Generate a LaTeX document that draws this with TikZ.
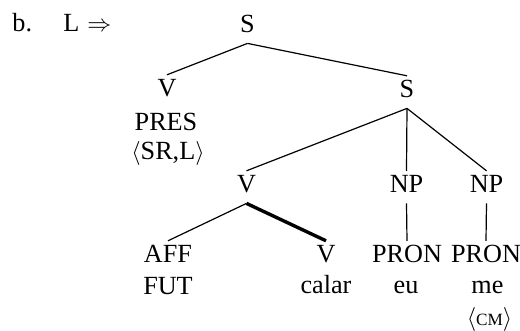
\documentclass[tikz,border=0pt]{standalone}
\usepackage{fontspec}
\setmainfont{Liberation Serif}
\newcommand{\treefont}{\fontsize{13.1}{15.5}\selectfont}
\newcommand{\smallcapsfake}[1]{{\fontsize{8.6}{10}\selectfont #1}}
\begin{document}
\begin{tikzpicture}[x=0.5pt,y=-0.5pt,
  tn/.style={font=\treefont, inner xsep=0pt, inner ysep=2.5pt, text height=8.4pt, text depth=2.5pt, anchor=base},
  lbl/.style={font=\treefont, inner sep=0pt, anchor=base},
  thinedge/.style={line width=0.6pt},
  thickedge/.style={line width=1.7pt}]
\useasboundingbox (0,0) rectangle (520,331);
% example label
\node[lbl, anchor=base west] (ex) at (12,32) {b.};
\node[lbl, anchor=base west] (lhs) at (63,32) {L\hspace{4pt}$\Rightarrow$};
% tree nodes
\node[tn] (root) at (247.5,33) {S};
\node[tn] (v1) at (167,97) {V};
\node[lbl] (pres) at (166,131) {PRES};
\node[lbl] (srl) at (168,160) {$\langle$SR,L$\rangle$};
\node[tn] (s2) at (407,98) {S};
\node[tn] (v3) at (246.5,193) {V};
\node[tn] (np1) at (406.5,193) {NP};
\node[tn] (np2) at (486.5,193) {NP};
\node[tn] (aff) at (168,263) {AFF};
\node[lbl] (fut) at (168,295) {FUT};
\node[tn] (v4) at (326,263) {V};
\node[lbl] (calar) at (326,294) {calar};
\node[tn] (pron1) at (407,263) {PRON};
\node[lbl] (eu) at (406,294) {eu};
\node[tn] (pron2) at (486,263) {PRON};
\node[lbl] (me) at (487.5,294) {me};
\node[lbl] (cm) at (489.5,325.7) {$\langle$\smallcapsfake{CM}$\rangle$};
% edges
\draw[thinedge] (root.south) -- (v1.north);
\draw[thinedge] (root.south) -- (s2.north);
\draw[thinedge] (s2.south) -- (v3.north);
\draw[thinedge] (s2.south) -- (np1.north);
\draw[thinedge] (s2.south) -- (np2.north);
\draw[thinedge] (v3.south) -- (aff.north);
\draw[thickedge] (v3.south) -- (v4.north);
\draw[thinedge] (np1.south) -- (pron1.north);
\draw[thinedge] (np2.south) -- (pron2.north);
\end{tikzpicture}
\end{document}
